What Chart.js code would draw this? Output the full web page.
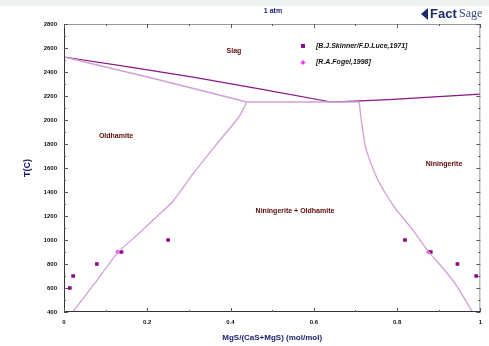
<!DOCTYPE html>
<html>
<head>
<meta charset="utf-8">
<script src="https://cdn.jsdelivr.net/npm/chart.js@4.4.1/dist/chart.umd.min.js"></script>
<style>
    html, body { margin: 0; padding: 0; background: #fff; }
    #wrap { width: 489px; height: 346px; position: relative; }
</style>
</head>
<body>
<div id="wrap"><canvas id="diagrama"></canvas></div>
<script>
// Diagrama de fases CaS-MgS a 1 atm
const xTicks = [0, 0.2, 0.4, 0.6, 0.8, 1];
const yTicks = [400, 600, 800, 1000, 1200, 1400, 1600, 1800, 2000, 2200, 2400, 2600, 2800];

// liquidus (escuro)
const liquidusEsqX = [0, 0.31, 0.642];
const liquidusEsqT = [2525, 2358, 2150];
const liquidusDirX = [0.642, 0.78, 1];
const liquidusDirT = [2150, 2170, 2215];

// solidus / solvus / eutetico (claro)
const solidusX = [0, 0.23, 0.439];
const solidusT = [2525, 2333, 2150];
const eutecticoX = [0.439, 0.709];
const eutecticoT = [2150, 2150];
const solvusEsqX = [0.439, 0.42, 0.365, 0.308, 0.26, 0.222, 0.181, 0.129, 0.074, 0.021];
const solvusEsqT = [2150, 2025, 1792, 1542, 1317, 1192, 1058, 895, 640, 400];
const solvusDirX = [0.709, 0.714, 0.726, 0.754, 0.795, 0.838, 0.878, 0.914, 0.945, 0.981];
const solvusDirT = [2150, 2000, 1750, 1500, 1267, 1083, 892, 750, 608, 400];

// medidas experimentais
const skinnerX = [0.014, 0.022, 0.079, 0.138, 0.25, 0.819, 0.881, 0.945, 0.99];
const skinnerT = [600, 700, 800, 900, 1000, 1000, 900, 800, 700];
const fogelX = [0.129, 0.876];
const fogelT = [900, 900];

const legendas = ['[B.J.Skinner/F.D.Luce,1971]', '[R.A.Fogel,1998]'];

const pares = (xs, ys) => xs.map((x, i) => ({ x: x, y: ys[i] }));

const corEscura = '#8a168a';
const corClara = '#d0a0d4';

function linha(xs, ys, cor, largura) {
    return {
        type: 'line',
        data: pares(xs, ys),
        borderColor: cor,
        borderWidth: largura,
        pointRadius: 0,
        fill: false,
        tension: 0.2
    };
}

const moldura = {
    id: 'moldura',
    beforeDraw(chart) {
        const c = chart.ctx;
        c.save();
        c.fillStyle = '#eef3f0';
        c.fillRect(0, 0, chart.width, 6);
        c.restore();
    },
    afterDraw(chart) {
        const c = chart.ctx;
        const a = chart.chartArea;
        const sx = chart.scales.x;
        const sy = chart.scales.y;
        c.save();

        // bordas
        c.lineWidth = 1;
        c.strokeStyle = '#999';
        c.beginPath();
        c.moveTo(a.left, a.top + 0.5); c.lineTo(a.right, a.top + 0.5);
        c.moveTo(a.right - 0.5, a.top); c.lineTo(a.right - 0.5, a.bottom);
        c.stroke();
        c.strokeStyle = '#333';
        c.beginPath();
        c.moveTo(a.left + 0.5, a.top); c.lineTo(a.left + 0.5, a.bottom);
        c.moveTo(a.left, a.bottom - 0.5); c.lineTo(a.right, a.bottom - 0.5);
        c.stroke();

        // marcas internas
        c.strokeStyle = '#555';
        c.beginPath();
        for (let v = 400; v <= 2800; v += 100) {
            const py = Math.round(sy.getPixelForValue(v)) + 0.5;
            const len = v % 200 === 0 ? 4 : 2;
            c.moveTo(a.left, py); c.lineTo(a.left + len, py);
            c.moveTo(a.right, py); c.lineTo(a.right - len, py);
        }
        for (let k = 0; k <= 10; k++) {
            const px = Math.round(sx.getPixelForValue(k / 10)) + 0.5;
            const len = k % 2 === 0 ? 4 : 2;
            c.moveTo(px, a.bottom); c.lineTo(px, a.bottom - len);
            c.moveTo(px, a.top); c.lineTo(px, a.top + len);
        }
        c.stroke();

        // titulos
        c.fillStyle = '#1a1a6e';
        c.textAlign = 'center';
        c.textBaseline = 'middle';
        c.font = 'bold 7px "Liberation Sans", Arial, sans-serif';
        c.fillText('1 atm', 273, 11);
        c.font = 'bold 8px "Liberation Sans", Arial, sans-serif';
        c.fillText('MgS/(CaS+MgS) (mol/mol)', (a.left + a.right) / 2, 338);
        c.save();
        c.translate(28, 168);
        c.rotate(-Math.PI / 2);
        c.font = 'bold 9px "Liberation Sans", Arial, sans-serif';
        c.fillText('T(C)', 0, 0);
        c.restore();

        // logotipo
        c.textAlign = 'left';
        c.fillStyle = '#1c2a6e';
        c.beginPath();
        c.moveTo(421, 14); c.lineTo(428, 8); c.lineTo(428, 20); c.closePath();
        c.fill();
        c.font = 'bold 13px "Liberation Sans", Arial, sans-serif';
        c.fillText('Fact', 430, 14);
        c.font = '12px "Liberation Serif", serif';
        c.fillStyle = '#3a4a86';
        c.fillText('Sage', 459, 14);

        // regioes
        c.fillStyle = '#5c0808';
        c.textAlign = 'center';
        c.font = 'bold 7px "Liberation Sans", Arial, sans-serif';
        c.fillText('Slag', 234, 51);
        c.fillText('Oldhamite', 116, 136);
        c.fillText('Niningerite', 444, 164);
        c.fillText('Niningerite + Oldhamite', 295, 211);

        // legenda
        c.fillStyle = '#8b0a8b';
        c.fillRect(301, 44, 4, 4);
        c.fillStyle = '#f03cf0';
        c.beginPath();
        c.moveTo(303, 60); c.lineTo(305.5, 62.5); c.lineTo(303, 65); c.lineTo(300.5, 62.5); c.closePath();
        c.fill();
        c.fillStyle = '#111';
        c.textAlign = 'left';
        c.font = 'italic bold 7px "Liberation Sans", Arial, sans-serif';
        c.fillText(legendas[0], 316, 46);
        c.fillText(legendas[1], 316, 62);

        c.restore();
    }
};

new Chart(document.getElementById('diagrama'), {
    type: 'scatter',
    data: {
        datasets: [
            linha(solidusX, solidusT, corClara, 1.5),
            linha(eutecticoX, eutecticoT, corClara, 1.5),
            linha(solvusEsqX, solvusEsqT, corClara, 1.3),
            linha(solvusDirX, solvusDirT, corClara, 1.3),
            linha(liquidusEsqX, liquidusEsqT, corEscura, 1.2),
            linha(liquidusDirX, liquidusDirT, corEscura, 1.2),
            {
                label: legendas[0],
                data: pares(skinnerX, skinnerT),
                pointStyle: 'rect',
                pointRadius: 2.6,
                backgroundColor: '#8b0a8b',
                borderColor: '#8b0a8b',
                borderWidth: 0
            },
            {
                label: legendas[1],
                data: pares(fogelX, fogelT),
                pointStyle: 'rectRot',
                pointRadius: 2.6,
                backgroundColor: '#f03cf0',
                borderColor: '#f03cf0',
                borderWidth: 0
            }
        ]
    },
    options: {
        responsive: true,
        maintainAspectRatio: false,
        animation: false,
        layout: { padding: { top: 24, right: 6, left: 0, bottom: 0 } },
        plugins: {
            legend: { display: false },
            tooltip: { enabled: false }
        },
        scales: {
            x: {
                type: 'linear',
                min: 0,
                max: 1,
                afterFit: s => { s.height = 34; },
                afterBuildTicks: s => { s.ticks = xTicks.map(v => ({ value: v })); },
                grid: { display: false, drawTicks: false },
                border: { display: false },
                ticks: {
                    padding: 7,
                    maxRotation: 0,
                    color: '#111',
                    font: { family: '"Liberation Sans", Arial, sans-serif', size: 6, weight: 'bold' },
                    callback: v => (v === 0 || v === 1) ? String(v) : v.toFixed(1)
                }
            },
            y: {
                type: 'linear',
                min: 400,
                max: 2800,
                afterFit: s => { s.width = 64; },
                afterBuildTicks: s => { s.ticks = yTicks.map(v => ({ value: v })); },
                grid: { display: false, drawTicks: false },
                border: { display: false },
                ticks: {
                    padding: 7,
                    color: '#111',
                    font: { family: '"Liberation Sans", Arial, sans-serif', size: 6, weight: 'bold' },
                    callback: v => String(v)
                }
            }
        }
    },
    plugins: [moldura]
});
</script>
</body>
</html>
